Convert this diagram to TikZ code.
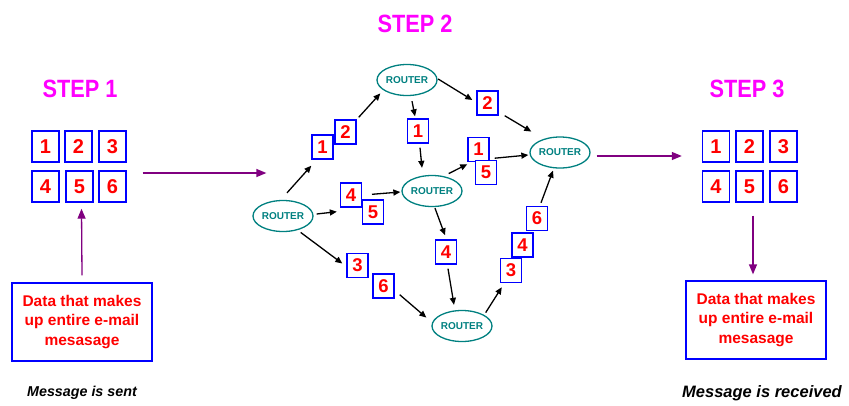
\documentclass[tikz,border=0pt]{standalone}
\usepackage{fontspec}
\setmainfont{Liberation Sans}
\newfontfamily\stepfont[FakeStretch=0.87]{Liberation Sans}
\usetikzlibrary{arrows.meta,shapes.geometric}
\definecolor{stepmagenta}{RGB}{255,0,255}
\definecolor{linkpurple}{RGB}{128,0,128}
\definecolor{routerteal}{RGB}{0,128,128}
\definecolor{pktblue}{RGB}{0,0,255}
\definecolor{pktred}{RGB}{255,0,0}

\begin{document}
\begin{tikzpicture}[x=1pt,y=-1pt,
  steplabel/.style={font=\stepfont\bfseries\fontsize{25}{25}\selectfont,
    text=stepmagenta, anchor=base, inner sep=0},
  gridpkt/.style={draw=pktblue, line width=1.4pt, fill=white,
    minimum width=27pt, minimum height=31pt, inner sep=0, text=pktred,
    font=\bfseries\fontsize{20}{20}\selectfont},
  netpkt/.style={gridpkt, minimum width=21pt, minimum height=24pt,
    font=\bfseries\fontsize{18.5}{18.5}\selectfont},
  router/.style={ellipse, draw=routerteal, line width=1.3pt,
    minimum width=60pt, minimum height=31pt, inner sep=0, text=routerteal,
    font=\bfseries\fontsize{10}{10}\selectfont},
  databox/.style={draw=pktblue, line width=1.3pt, minimum width=140pt,
    minimum height=78pt, text=pktred, align=center,
    font=\bfseries\fontsize{15.5}{19.5}\selectfont},
  caption/.style={anchor=base, inner sep=0,
    font=\bfseries\itshape\fontsize{14.3}{14.3}\selectfont},
  hop/.style={-{Triangle[length=7pt,width=6pt]}, line width=1.3pt},
  flow/.style={-{Triangle[length=10pt,width=8pt]}, line width=1.3pt,
    draw=linkpurple, color=linkpurple},
]
\useasboundingbox (0,0) rectangle (849,405);

% step titles
\node[steplabel] (s1) at (80,97) {STEP 1};
\node[steplabel] (s2) at (415,32) {STEP 2};
\node[steplabel] (s3) at (747,97) {STEP 3};

% message split into packets (sender side)
\node[gridpkt] (b1) at (45.5,146.5) {1};
\node[gridpkt] (b2) at (78.5,146.5) {2};
\node[gridpkt] (b3) at (112.5,146.5) {3};
\node[gridpkt] (b4) at (45.5,186.5) {4};
\node[gridpkt] (b5) at (79.5,186.5) {5};
\node[gridpkt] (b6) at (112.5,186.5) {6};

% reassembled packets (receiver side)
\node[gridpkt] (c1) at (716,146.5) {1};
\node[gridpkt] (c2) at (749.5,146.5) {2};
\node[gridpkt] (c3) at (783.5,146.5) {3};
\node[gridpkt] (c4) at (716,186.5) {4};
\node[gridpkt] (c5) at (749.5,186.5) {5};
\node[gridpkt] (c6) at (783.5,186.5) {6};

% data boxes and captions
\node[databox] (dataL) at (82,322) {Data that makes\\up entire e-mail\\mesasage};
\node[databox] (dataR) at (756,320) {Data that makes\\up entire e-mail\\mesasage};
\node[caption] (capL) at (82,396) {Message is sent};
\node[caption, font=\bfseries\itshape\fontsize{16.5}{16.5}\selectfont]
  (capR) at (762,397) {Message is received};

% routers
\node[router] (R1) at (283,216) {ROUTER};
\node[router] (R2) at (407,80) {ROUTER};
\node[router] (R3) at (432,191) {ROUTER};
\node[router] (R4) at (560,152.5) {ROUTER};
\node[router] (R5) at (462,326) {ROUTER};

% packets travelling through the network
\node[netpkt] (pA1) at (322.5,147) {1};
\node[netpkt] (pA2) at (345.5,132) {2};
\node[netpkt] (pB1) at (418,131) {1};
\node[netpkt] (pC2) at (487.5,103) {2};
\node[netpkt] (pD4) at (351,195) {4};
\node[netpkt] (pD5) at (373,212) {5};
\node[netpkt] (pE1) at (478.5,149.5) {1};
\node[netpkt] (pE5) at (486,172.5) {5};
\node[netpkt] (pF4) at (446,252) {4};
\node[netpkt] (pG3) at (357.5,265.5) {3};
\node[netpkt] (pG6) at (383.5,286) {6};
\node[netpkt] (pH3) at (511,270.5) {3};
\node[netpkt] (pH4) at (522.5,245) {4};
\node[netpkt] (pH6) at (537,218.5) {6};

% hops between routers
\draw[hop] ([xshift=4pt,yshift=7pt]R1.north) -- ([yshift=-6pt]pA1.south west);
\draw[hop] ([xshift=2pt,yshift=2pt]pA2.north east) -- ([xshift=-5pt,yshift=-2pt]R2.south west);
\draw[hop] ([xshift=3pt,yshift=2pt]R1.east) -- ([xshift=-3pt,yshift=-4pt]pD4.south west);
\draw[hop] ([xshift=-1pt,yshift=5pt]pD5.north) -- ([xshift=-1pt,yshift=-1pt]R3.west);
\draw[hop] ([xshift=-4pt,yshift=-5pt]R1.south east) -- ([xshift=-4pt,yshift=2pt]pG3.west);
\draw[hop] ([xshift=5pt,yshift=4pt]pG6.south east) -- ([xshift=-14pt,yshift=-3pt]R5.north west);
\draw[hop] ([xshift=5pt,yshift=-5pt]R2.south) -- ([xshift=-3pt,yshift=2pt]pB1.north);
\draw[hop] ([xshift=2pt,yshift=-4pt]pB1.south) -- ([xshift=-10pt,yshift=7pt]R3.north);
\draw[hop] ([xshift=0.5pt,yshift=1pt]R2.east) -- ([xshift=-4pt,yshift=3pt]pC2.west);
\draw[hop] ([xshift=6pt]pC2.south east) -- ([xshift=-7pt,yshift=9.5pt]R4.north west);
\draw[hop] ([xshift=-5pt,yshift=6pt]R3.north east) -- ([yshift=-2pt]pE1.south west);
\draw[hop] ([xshift=5pt,yshift=4pt]pE1.south east) -- ([xshift=-1pt,yshift=-2.5pt]R4.west);
\draw[hop] ([xshift=3pt,yshift=-1pt]R3.south) -- ([xshift=-1pt,yshift=4pt]pF4.north);
\draw[hop] ([xshift=2pt,yshift=-4pt]pF4.south) -- ([xshift=-8pt,yshift=5pt]R5.north);
\draw[hop] ([xshift=2pt,yshift=2pt]R5.north east) -- ([xshift=2pt,yshift=-4pt]pH3.south west);
\draw[hop] ([xshift=4pt,yshift=3pt]pH6.north) -- ([xshift=-7pt,yshift=-2pt]R4.south);

% message flow between the steps
\draw[flow] ([xshift=16pt,yshift=13.5pt]b6.east) -- ([xshift=14pt,yshift=43pt]R1.west);
\draw[flow] ([xshift=6pt,yshift=-3.5pt]R4.east) -- ([xshift=-20pt,yshift=30.5pt]c4.west);
\draw[flow] ([xshift=0pt,yshift=7pt]dataL.north) -- ([xshift=2pt,yshift=-6pt]b5.south);
\draw[flow] ([xshift=3.5pt,yshift=-13pt]c5.south) -- ([xshift=-3pt,yshift=6pt]dataR.north);
\end{tikzpicture}
\end{document}
